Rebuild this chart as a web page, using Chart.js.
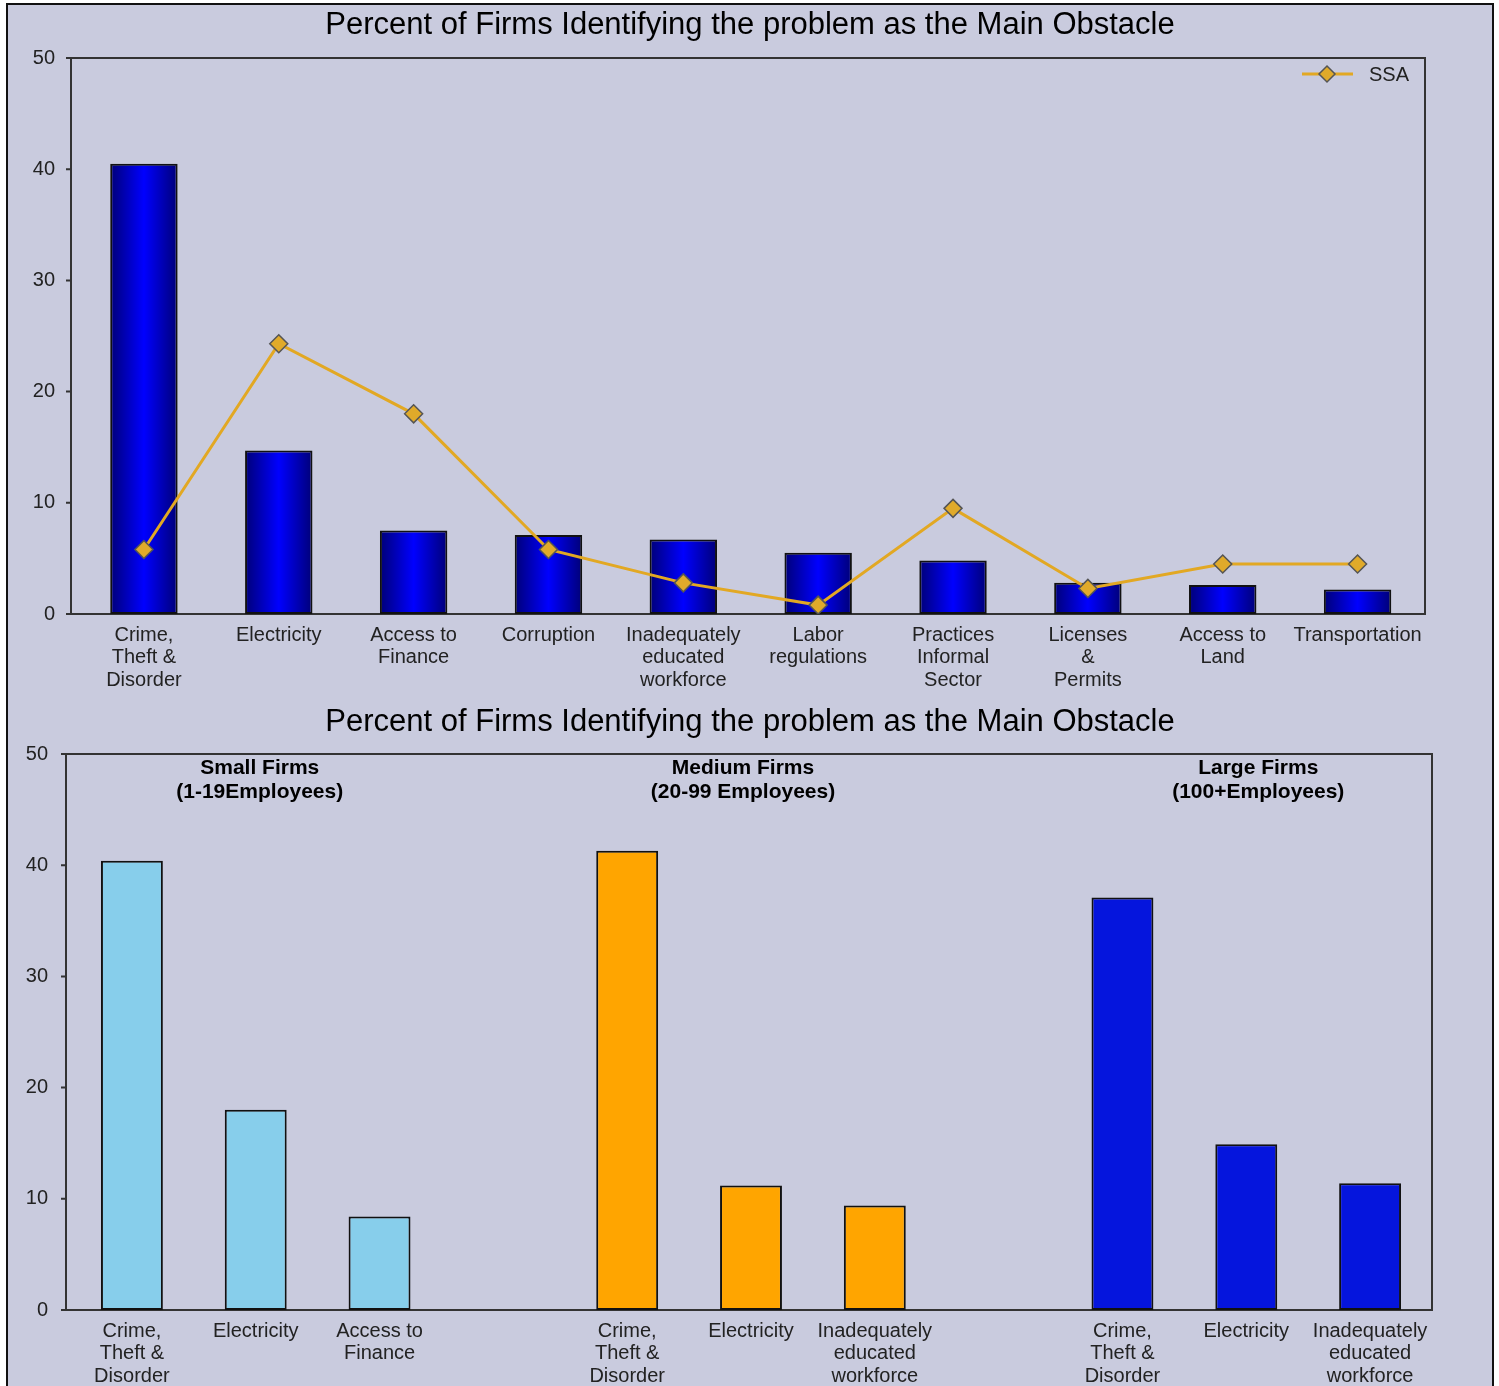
<!DOCTYPE html>
<html>
<head>
<meta charset="utf-8">
<script src="https://cdn.jsdelivr.net/npm/chart.js@4.4.1/dist/chart.umd.min.js"></script>
<style>
html, body { margin: 0; padding: 0; background: #fff; overflow: hidden; width: 1499px; height: 1386px; }
#panel { position: absolute; left: 6px; top: 3px; width: 1484px; height: 1400px; background: #c9cbde; border: 2px solid #111; border-bottom: none; }
#topWrap { position: absolute; left: 0; top: 0; width: 1484px; height: 693px; }
#botWrap { position: absolute; left: 0; top: 695px; width: 1484px; height: 686px; }
</style>
</head>
<body>
<div id="panel">
  <div id="topWrap"><canvas id="topChart"></canvas></div>
  <div id="botWrap"><canvas id="botChart"></canvas></div>
</div>
<script>
const chartTitle = 'Percent of Firms Identifying the problem as the Main Obstacle';
const yTicks = [0, 10, 20, 30, 40, 50];

// top chart
const obstacleLabels = [['Crime,', 'Theft &', 'Disorder'], 'Electricity', ['Access to', 'Finance'], 'Corruption',
    ['Inadequately', 'educated', 'workforce'], ['Labor', 'regulations'], ['Practices', 'Informal', 'Sector'],
    ['Licenses', '&', 'Permits'], ['Access to', 'Land'], 'Transportation'];
const countryValues = [40.5, 14.7, 7.5, 7.1, 6.7, 5.5, 4.8, 2.8, 2.6, 2.2];
const ssaValues = [5.8, 24.3, 18.0, 5.8, 2.8, 0.8, 9.5, 2.3, 4.5, 4.5];
const ssaLabel = 'SSA';

// bottom chart (11 slots, gaps between the groups)
const sizeLabels = [['Crime,', 'Theft &', 'Disorder'], 'Electricity', ['Access to', 'Finance'], '',
    ['Crime,', 'Theft &', 'Disorder'], 'Electricity', ['Inadequately', 'educated', 'workforce'], '',
    ['Crime,', 'Theft &', 'Disorder'], 'Electricity', ['Inadequately', 'educated', 'workforce']];
const smallValues = [40.4, 18.0, 8.4];
const mediumValues = [41.3, 11.2, 9.4];
const largeValues = [37.1, 14.9, 11.4];
const groupNames = [['Small Firms', '(1-19Employees)'], ['Medium Firms', '(20-99 Employees)'], ['Large Firms', '(100+Employees)']];

const FONT = "'Liberation Sans', Arial, sans-serif";
const AXIS = '#333';

function placeInSlots(values, start) {
    const out = new Array(sizeLabels.length).fill(null);
    values.forEach((v, i) => { out[start + i] = v; });
    return out;
}

function barGradient(context) {
    const chart = context.chart;
    const xs = chart.scales.x;
    if (!xs || !chart.chartArea) return '#0000cc';
    const cx = xs.getPixelForValue(context.dataIndex);
    const half = xs.width / obstacleLabels.length * 0.5 / 2;
    const g = chart.ctx.createLinearGradient(cx - half, 0, cx + half, 0);
    g.addColorStop(0, '#000078');
    g.addColorStop(0.5, '#0000ff');
    g.addColorStop(1, '#000078');
    return g;
}

// frame, y tick marks and the title (the y axis line sits a few px left of the first category)
function framePlugin(axisGap, titleY) {
    return {
        id: 'frame',
        beforeDatasetsDraw(chart) {
            const a = chart.chartArea;
            const ctx = chart.ctx;
            const x0 = a.left - axisGap;
            ctx.save();
            ctx.strokeStyle = AXIS;
            ctx.lineWidth = 2;
            ctx.strokeRect(x0, a.top, a.right - x0, a.bottom - a.top);
            ctx.beginPath();
            yTicks.forEach(v => {
                const y = chart.scales.y.getPixelForValue(v);
                ctx.moveTo(x0 - 5, y);
                ctx.lineTo(x0, y);
            });
            ctx.stroke();
            ctx.restore();
        },
        afterDraw(chart) {
            const ctx = chart.ctx;
            ctx.save();
            ctx.fillStyle = '#000';
            ctx.font = '31px ' + FONT;
            ctx.textAlign = 'center';
            ctx.textBaseline = 'middle';
            ctx.fillText(chartTitle, chart.width / 2, titleY);
            ctx.restore();
        }
    };
}

const ssaLegendPlugin = {
    id: 'ssaLegend',
    afterDraw(chart) {
        const ctx = chart.ctx;
        const y = 69;
        ctx.save();
        ctx.strokeStyle = '#e2a823';
        ctx.lineWidth = 3;
        ctx.beginPath();
        ctx.moveTo(1294, y);
        ctx.lineTo(1345, y);
        ctx.stroke();
        ctx.fillStyle = '#e0aa2a';
        ctx.strokeStyle = '#555';
        ctx.lineWidth = 1.5;
        ctx.beginPath();
        ctx.moveTo(1319, y - 8);
        ctx.lineTo(1327, y);
        ctx.lineTo(1319, y + 8);
        ctx.lineTo(1311, y);
        ctx.closePath();
        ctx.fill();
        ctx.stroke();
        ctx.fillStyle = '#222';
        ctx.font = '20px ' + FONT;
        ctx.textBaseline = 'middle';
        ctx.fillText(ssaLabel, 1361, y + 1);
        ctx.restore();
    }
};

const groupTitlePlugin = {
    id: 'groupTitles',
    afterDraw(chart) {
        const ctx = chart.ctx;
        const xs = chart.scales.x;
        const shift = [4, -8, 12];
        ctx.save();
        ctx.fillStyle = '#000';
        ctx.font = 'bold 21px ' + FONT;
        ctx.textAlign = 'center';
        ctx.textBaseline = 'middle';
        groupNames.forEach((lines, g) => {
            const cx = xs.getPixelForValue(g * 4 + 1) + shift[g];
            ctx.fillText(lines[0], cx, 68);
            ctx.fillText(lines[1], cx, 92);
        });
        ctx.restore();
    }
};

function yScale(width, pad) {
    return {
        min: 0,
        max: 50,
        afterBuildTicks: (scale) => { scale.ticks = yTicks.map(v => ({ value: v })); },
        afterFit: (scale) => { scale.width = width; },
        grid: { display: false, drawTicks: false },
        border: { display: false },
        ticks: { color: '#222', font: { family: FONT, size: 20 }, padding: pad },
    };
}

function xScale(height) {
    return {
        afterFit: (scale) => { scale.height = height; },
        grid: { display: false, drawTicks: false },
        border: { display: false },
        ticks: { color: '#222', font: { family: FONT, size: 20, lineHeight: 1.12 }, padding: 10, maxRotation: 0, autoSkip: false },
    };
}

new Chart(document.getElementById('topChart').getContext('2d'), {
    data: {
        labels: obstacleLabels,
        datasets: [{
            type: 'line',
            label: ssaLabel,
            data: ssaValues,
            borderColor: '#e2a823',
            borderWidth: 3,
            pointStyle: 'rectRot',
            pointRadius: 9,
            pointBackgroundColor: '#e0aa2a',
            pointBorderColor: '#555',
            pointBorderWidth: 1.5,
            tension: 0,
            order: 0,
        }, {
            type: 'bar',
            label: '',
            data: countryValues,
            backgroundColor: barGradient,
            borderColor: '#111',
            borderWidth: 2,
            borderSkipped: false,
            categoryPercentage: 1,
            barPercentage: 0.5,
            order: 1,
        }],
    },
    options: {
        animation: false,
        responsive: true,
        maintainAspectRatio: false,
        layout: { padding: { left: 0, right: 67, top: 53, bottom: 0 } },
        plugins: { legend: { display: false }, tooltip: { enabled: false }, title: { display: false } },
        scales: { x: xScale(84), y: yScale(68.5, 21.5) },
    },
    plugins: [framePlugin(5.5, 20), ssaLegendPlugin],
});

new Chart(document.getElementById('botChart').getContext('2d'), {
    type: 'bar',
    data: {
        labels: sizeLabels,
        datasets: [
            { label: 'Small Firms', data: placeInSlots(smallValues, 0), backgroundColor: '#87ceeb' },
            { label: 'Medium Firms', data: placeInSlots(mediumValues, 4), backgroundColor: '#ffa500' },
            { label: 'Large Firms', data: placeInSlots(largeValues, 8), backgroundColor: '#0515dd' },
        ].map(d => Object.assign(d, {
            borderColor: '#111', borderWidth: 2, borderSkipped: false,
            grouped: false, categoryPercentage: 1, barPercentage: 0.5,
        })),
    },
    options: {
        animation: false,
        responsive: true,
        maintainAspectRatio: false,
        layout: { padding: { left: 0, right: 60, top: 54, bottom: 0 } },
        plugins: { legend: { display: false }, tooltip: { enabled: false }, title: { display: false } },
        scales: { x: xScale(76), y: yScale(62, 22) },
    },
    plugins: [framePlugin(4, 22), groupTitlePlugin],
});
</script>
</body>
</html>
